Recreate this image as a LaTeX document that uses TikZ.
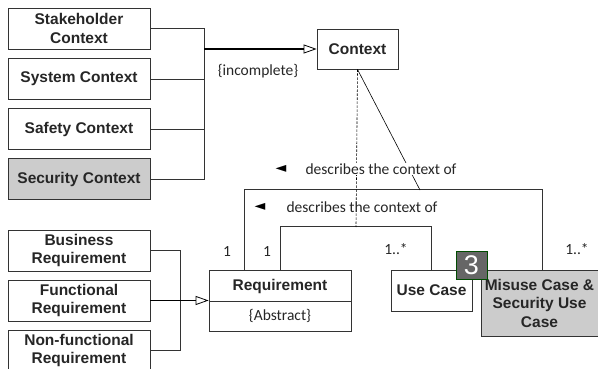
\documentclass[tikz,border=0pt]{standalone}
\usepackage{fontspec}
\setmainfont{Liberation Sans}
\newfontfamily\calib{Carlito}
\newfontfamily\dejavu{DejaVu Sans}
\usepackage{xcolor}
\usetikzlibrary{arrows.meta}

\begin{document}
\begin{tikzpicture}[x=1pt,y=-1pt,
  box/.style={draw=black!80, line width=0.8pt, align=center, inner sep=0pt,
    font=\fontsize{15.5}{18.5}\selectfont\bfseries, text=black!85},
  ctxbox/.style={box, minimum width=142pt, minimum height=41pt},
  gen/.style={line width=1.2pt, -{Triangle[open, length=13pt, width=9pt, line width=0.8pt, fill=white]}},
  line/.style={draw=black!80, line width=0.7pt},
  lbl/.style={font=\calib\fontsize{15.5}{17}\selectfont, inner sep=1pt, text=black!85},
  tri/.style={font=\dejavu\fontsize{14}{14}\selectfont, inner sep=0pt}]
\useasboundingbox (0,0) rectangle (598,369);

\foreach \n/\y/\t in {stake/28.5/{Stakeholder\\Context}, sys/79/{System Context}, saf/129/{Safety Context}} {
\node[ctxbox] (\n) at (79,\y) {\t};
}
\node[ctxbox, fill=black!20] (sec) at (79,179) {Security Context};

\foreach \n/\y/\t in {bus/250.5/{Business\\Requirement}, func/300.5/{Functional\\Requirement}, nonf/350.5/{Non-functional\\Requirement}} {
\node[ctxbox] (\n) at (79,\y) {\t};
}

\node[box, minimum width=81pt, minimum height=40pt] (ctx) at (357.5,49) {Context};
\node[box, minimum width=142pt, minimum height=61pt] (req) at (280,300.5) {};
\draw[line] (req.west |- 0,301) -- (req.east |- 0,301);
\node[box, draw=none] (reqname) at (280,286) {Requirement};
\node[lbl] (reqabs) at (280,316) {\{Abstract\}};
\node[box, minimum width=81pt, minimum height=41pt] (uc) at (431.5,290.5) {Use Case};
\node[box, fill=black!20, minimum width=117pt, minimum height=66pt] (mis) at (539.5,303)
  {Misuse Case \&\\Security Use\\Case};

% generalisations
\coordinate (ctxbus) at (204,49);
\draw[line] (stake.east) -- ++(54,0) |- (sec.east);
\draw[line] (sys.east) -- (sys.east -| ctxbus);
\draw[line] (saf.east) -- (saf.east -| ctxbus);
\draw[gen] (ctxbus) -- (ctx.west);
\node[lbl] (incompl) at (258,71) {\{incomplete\}};

\draw[line] (bus.east) -- ++(30,0) |- (nonf.east);
\draw[gen, line width=0.8pt] (func.east) -- (req.west);

% associations
\draw[line] ([xshift=-36pt]req.north) -- ++(0,-80) -| ([xshift=2.5pt]mis.north);
\draw[line] (req.north) -- ++(0,-43) -| (uc.north);
\coordinate (upas) at (420,190);
\coordinate (lowas) at (356,227);
\draw[black, line width=0.6pt] (ctx.south) -- (upas);
\draw[black, line width=0.6pt, dash pattern=on 2.5pt off 1.5pt] (ctx.south) -- (lowas);

\node[lbl, fill=white] (desc1) at (381,169) {describes the context of};
\node[tri] (arr1) at (281,169) {◄};
\node[lbl, fill=white] (desc2) at (362,207) {describes the context of};
\node[tri] (arr2) at (260,207) {◄};

\foreach \x/\y/\m in {227/252/1, 267/252/1, 396/249/1..*, 577/249/1..*} {
\node[lbl] at (\x,\y) {\m};
}

\node[draw=green!30!black, fill=black!60, text=white, line width=0.8pt, minimum width=31pt,
  minimum height=28pt, inner sep=0pt, font=\fontsize{27}{27}\selectfont] (badge) at (471.5,265) {3};
\end{tikzpicture}
\end{document}
